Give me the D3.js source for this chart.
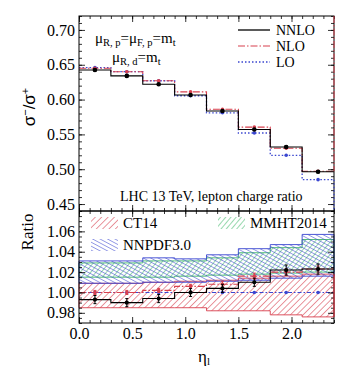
<!DOCTYPE html>
<html>
<head>
<meta charset="utf-8">
<script src="https://cdn.jsdelivr.net/npm/d3@7/dist/d3.min.js"></script>
<style>
  body { margin: 0; background: #fff; }
  text { font-family: 'Liberation Serif', 'DejaVu Serif', serif; fill: #000; }
  .tick text { font-size: 16px; }
</style>
</head>
<body>
<svg id="chart" width="356" height="379"></svg>
<script>
// bins in eta_l (edges) and values per bin
var binEdges = [0, 0.3, 0.6, 0.9, 1.2, 1.5, 1.8, 2.1, 2.4];

// upper panel: sigma-/sigma+
var nnlo = [0.6425, 0.6340, 0.6220, 0.6065, 0.5835, 0.5570, 0.5320, 0.4963];
var nlo  = [0.6450, 0.6400, 0.6270, 0.6110, 0.5860, 0.5605, 0.5300, 0.4970];
var lo   = [0.6460, 0.6400, 0.6270, 0.6055, 0.5810, 0.5520, 0.5200, 0.4850];

// lower panel: ratio
var ratioNNLO = [0.993, 0.990, 0.994, 1.000, 1.004, 1.010, 1.022, 1.023];
var ratioNLO  = [1.000, 1.000, 1.002, 1.006, 1.008, 1.016, 1.020, 1.023];
var ratioLO   = [1.000, 1.000, 1.000, 1.000, 1.000, 1.000, 1.000, 1.000];
var errNNLO   = [0.004, 0.004, 0.004, 0.004, 0.004, 0.004, 0.005, 0.005];
var errNLO    = [0.002, 0.002, 0.002, 0.002, 0.003, 0.003, 0.003, 0.003];

var ct14Lo  = [0.985, 0.985, 0.985, 0.985, 0.982, 0.982, 0.978, 0.976];
var ct14Hi  = [1.009, 1.009, 1.010, 1.011, 1.012, 1.014, 1.016, 1.018];
var mmhtLo  = [1.015, 1.015, 1.015, 1.016, 1.017, 1.018, 1.019, 1.020];
var mmhtHi  = [1.029, 1.029, 1.031, 1.031, 1.034, 1.039, 1.044, 1.052];
var nnpdfLo = [1.009, 1.009, 1.010, 1.010, 1.011, 1.012, 1.014, 1.016];
var nnpdfHi = [1.031, 1.031, 1.034, 1.033, 1.037, 1.043, 1.047, 1.057];

var xTicks = [0, 0.5, 1.0, 1.5, 2.0];
var topTicks = [0.45, 0.50, 0.55, 0.60, 0.65, 0.70];
var ratioTicks = [0.98, 1.00, 1.02, 1.04, 1.06];

var colors = {red: '#d8404e', blue: '#3a46d0', green: '#3fb86a', black: '#000'};

var svg = d3.select('#chart');
var padL = 79, padR = 334, padT = 16, padM = 211, padB = 323;

var x = d3.scaleLinear().domain([0, 2.4]).range([padL, padR]);
var yTop = d3.scaleLinear().domain([0.44, 0.72]).range([padM, padT]);
var yRat = d3.scaleLinear().domain([0.97, 1.08]).range([padB, padM]);

// hatch patterns
var defs = svg.append('defs');
function hatch(id, color, angle, gap, sw) {
    var p = defs.append('pattern')
        .attr('id', id)
        .attr('patternUnits', 'userSpaceOnUse')
        .attr('width', gap).attr('height', gap)
        .attr('patternTransform', 'rotate(' + angle + ')');
    p.append('line')
        .attr('x1', 0).attr('y1', 0).attr('x2', 0).attr('y2', gap)
        .attr('stroke', color).attr('stroke-width', sw);
}
hatch('hCT', colors.red, 45, 4.5, 1.1);
hatch('hMMHT', colors.green, 40, 4, 1.1);
hatch('hNNPDF', colors.blue, -62, 3.5, 1);

function centers() {
    return d3.range(binEdges.length - 1).map(function(i) {
        return (binEdges[i] + binEdges[i + 1]) / 2;
    });
}

function stepPoints(vals) {
    var pts = [];
    vals.forEach(function(v, i) {
        pts.push([binEdges[i], v]);
        pts.push([binEdges[i + 1], v]);
    });
    return pts;
}

function drawStep(g, vals, y, color, dash, width) {
    g.append('path')
        .datum(stepPoints(vals))
        .attr('d', d3.line().x(function(d) { return x(d[0]); }).y(function(d) { return y(d[1]); }))
        .attr('fill', 'none')
        .attr('stroke', color)
        .attr('stroke-width', width)
        .attr('stroke-dasharray', dash);
}

function drawBand(g, loV, hiV, pat, color) {
    var data = [];
    loV.forEach(function(v, i) {
        data.push({x: binEdges[i], lo: v, hi: hiV[i]});
        data.push({x: binEdges[i + 1], lo: v, hi: hiV[i]});
    });
    var area = d3.area()
        .x(function(d) { return x(d.x); })
        .y0(function(d) { return yRat(d.lo); })
        .y1(function(d) { return yRat(d.hi); });
    g.append('path').datum(data)
        .attr('d', area)
        .attr('fill', 'url(#' + pat + ')')
        .attr('stroke', color)
        .attr('stroke-width', 0.9);
}

function drawPoints(g, vals, errs, y, color, r) {
    var c = centers();
    if (errs) {
        c.forEach(function(cx, i) {
            var px = x(cx);
            g.append('line')
                .attr('x1', px).attr('x2', px)
                .attr('y1', y(vals[i] - errs[i])).attr('y2', y(vals[i] + errs[i]))
                .attr('stroke', color).attr('stroke-width', 1);
            [vals[i] - errs[i], vals[i] + errs[i]].forEach(function(e) {
                g.append('line')
                    .attr('x1', px - 1.5).attr('x2', px + 1.5)
                    .attr('y1', y(e)).attr('y2', y(e))
                    .attr('stroke', color).attr('stroke-width', 1);
            });
        });
    }
    g.selectAll(null).data(vals).enter().append('circle')
        .attr('cx', function(d, i) { return x(c[i]); })
        .attr('cy', function(d) { return y(d); })
        .attr('r', r)
        .attr('fill', color);
}

/** upper panel **/
var gTop = svg.append('g');
drawStep(gTop, lo, yTop, colors.blue, '1.5,2', 1.3);
drawStep(gTop, nlo, yTop, colors.red, '7,2,1.5,2', 1.1);
drawStep(gTop, nnlo, yTop, colors.black, null, 1.1);
drawPoints(gTop, lo, null, yTop, colors.blue, 1.8);
drawPoints(gTop, nlo, null, yTop, colors.red, 1.8);
drawPoints(gTop, nnlo, nnlo.map(function() { return 0.0015; }), yTop, colors.black, 2.3);

/** lower panel **/
var gRat = svg.append('g');
drawBand(gRat, ct14Lo, ct14Hi, 'hCT', colors.red);
drawBand(gRat, mmhtLo, mmhtHi, 'hMMHT', colors.green);
drawBand(gRat, nnpdfLo, nnpdfHi, 'hNNPDF', colors.blue);
drawStep(gRat, ratioLO, yRat, colors.blue, '4,2,1.5,2', 1.1);
drawStep(gRat, ratioNLO, yRat, colors.red, '7,2,1.5,2', 1.1);
drawStep(gRat, ratioNNLO, yRat, colors.black, null, 1.1);
drawPoints(gRat, ratioLO, null, yRat, colors.blue, 1.8);
drawPoints(gRat, ratioNLO, errNLO, yRat, colors.red, 1.8);
drawPoints(gRat, ratioNNLO, errNNLO, yRat, colors.black, 2.1);

/** axes **/
function axisSet(y, ticks, minorStep, y0, y1, showX) {
    var minorY = d3.range(y0, y1 + 1e-9, minorStep);
    var minorX = d3.range(0, 2.4 + 1e-9, 0.1);
    var ax = svg.append('g').attr('class', 'axis');
    ax.append('g').attr('transform', 'translate(' + padL + ',0)')
        .call(d3.axisLeft(y).tickValues(minorY).tickSize(-3).tickFormat(''));
    ax.append('g').attr('transform', 'translate(' + padL + ',0)')
        .call(d3.axisLeft(y).tickValues(ticks).tickSize(-6).tickPadding(4).tickFormat(d3.format('.2f')));
    ax.append('g').attr('transform', 'translate(' + padR + ',0)')
        .call(d3.axisRight(y).tickValues(minorY).tickSize(-3).tickFormat(''));
    ax.append('g').attr('transform', 'translate(' + padR + ',0)')
        .call(d3.axisRight(y).tickValues(ticks).tickSize(-6).tickFormat(''));
    var yb = y.range()[0], yt = y.range()[1];
    ax.append('g').attr('transform', 'translate(0,' + yb + ')')
        .call(d3.axisBottom(x).tickValues(minorX).tickSize(-3).tickFormat(''));
    ax.append('g').attr('transform', 'translate(0,' + yb + ')')
        .call(d3.axisBottom(x).tickValues(xTicks).tickSize(-6).tickPadding(5)
            .tickFormat(showX ? d3.format('.1f') : ''));
    ax.append('g').attr('transform', 'translate(0,' + yt + ')')
        .call(d3.axisTop(x).tickValues(minorX).tickSize(-3).tickFormat(''));
    ax.append('g').attr('transform', 'translate(0,' + yt + ')')
        .call(d3.axisTop(x).tickValues(xTicks).tickSize(-6).tickFormat(''));
    ax.selectAll('.domain').remove();
    ax.selectAll('.tick line').attr('stroke', '#000').attr('stroke-width', 0.8);
    ax.selectAll('.tick text').attr('fill', '#000').style('font-family', "'Liberation Serif', serif");
}
axisSet(yTop, topTicks, 0.01, 0.44, 0.72, false);
axisSet(yRat, ratioTicks, 0.005, 0.97, 1.08, true);

svg.append('rect').attr('x', padL).attr('y', padT)
    .attr('width', padR - padL).attr('height', padB - padT)
    .attr('fill', 'none').attr('stroke', '#000').attr('stroke-width', 1);
svg.append('line').attr('x1', padL).attr('x2', padR).attr('y1', padM).attr('y2', padM)
    .attr('stroke', '#000').attr('stroke-width', 1.5);

// right-hand drop of NLO / LO drawn over the frame
var ends = svg.append('g');
ends.append('line').attr('x1', padR).attr('x2', padR).attr('y1', yTop(lo[7])).attr('y2', padM)
    .attr('stroke', colors.blue).attr('stroke-width', 1.2).attr('stroke-dasharray', '1.5,2');
ends.append('line').attr('x1', padR).attr('x2', padR).attr('y1', padT).attr('y2', yTop(nlo[7]))
    .attr('stroke', colors.red).attr('stroke-width', 1).attr('stroke-dasharray', '7,2,1.5,2');
ends.append('line').attr('x1', padR).attr('x2', padR).attr('y1', yRat(ct14Hi[7])).attr('y2', yRat(ct14Lo[7]))
    .attr('stroke', colors.red).attr('stroke-width', 1.2);

/** legend: upper **/
var leg = svg.append('g');
var legItems = [
    {name: 'NNLO', color: colors.black, dash: null, w: 1.3},
    {name: 'NLO', color: colors.red, dash: '7,2,1.5,2', w: 1.1},
    {name: 'LO', color: colors.blue, dash: '1.5,2', w: 1.3}
];
legItems.forEach(function(d, i) {
    var yy = 30 + i * 16;
    leg.append('line').attr('x1', 238).attr('x2', 270).attr('y1', yy).attr('y2', yy)
        .attr('stroke', d.color).attr('stroke-width', d.w).attr('stroke-dasharray', d.dash);
    leg.append('text').attr('x', 276).attr('y', yy + 5).style('font-size', '14px').text(d.name);
});

// scale annotations
var t1 = svg.append('text').attr('x', 95).attr('y', 43).style('font-size', '15px');
t1.append('tspan').text('\u03bc');
t1.append('tspan').attr('dy', 2.5).style('font-size', '10.5px').text('R, p');
t1.append('tspan').attr('dy', -2.5).text('=\u03bc');
t1.append('tspan').attr('dy', 2.5).style('font-size', '10.5px').text('F, p');
t1.append('tspan').attr('dy', -2.5).text('=m');
t1.append('tspan').attr('dy', 2.5).style('font-size', '10.5px').text('t');

var t2 = svg.append('text').attr('x', 112).attr('y', 62).style('font-size', '15px');
t2.append('tspan').text('\u03bc');
t2.append('tspan').attr('dy', 2.5).style('font-size', '10.5px').text('R, d');
t2.append('tspan').attr('dy', -2.5).text('=m');
t2.append('tspan').attr('dy', 2.5).style('font-size', '10.5px').text('t');

svg.append('text').attr('x', 120).attr('y', 201).style('font-size', '14px')
    .text('LHC 13 TeV, lepton charge ratio');

/** legend: ratio bands **/
var bandLeg = [
    {name: 'CT14', pat: 'hCT', x: 91, y: 217},
    {name: 'NNPDF3.0', pat: 'hNNPDF', x: 91, y: 239},
    {name: 'MMHT2014', pat: 'hMMHT', x: 218, y: 217}
];
bandLeg.forEach(function(d) {
    svg.append('rect').attr('x', d.x).attr('y', d.y).attr('width', 27).attr('height', 12)
        .attr('fill', 'url(#' + d.pat + ')');
    svg.append('text').attr('x', d.x + 32).attr('y', d.y + 11).style('font-size', '15px').text(d.name);
});

/** axis titles **/
var yl = svg.append('text')
    .attr('transform', 'translate(35,107) rotate(-90)')
    .attr('text-anchor', 'middle')
    .style('font-family', "'Liberation Sans', sans-serif")
    .style('font-size', '17px');
yl.append('tspan').text('\u03c3');
yl.append('tspan').attr('dy', -6).style('font-size', '11px').text('\u2212');
yl.append('tspan').attr('dy', 6).text('/\u03c3');
yl.append('tspan').attr('dy', -6).style('font-size', '11px').text('+');

svg.append('text')
    .attr('transform', 'translate(33,232) rotate(-90)')
    .attr('text-anchor', 'middle')
    .style('font-size', '17px')
    .text('Ratio');

var xl = svg.append('text').attr('x', 198).attr('y', 362).style('font-size', '17px');
xl.append('tspan').text('\u03b7');
xl.append('tspan').attr('dy', 3).style('font-size', '11px').text('l');
</script>
</body>
</html>
